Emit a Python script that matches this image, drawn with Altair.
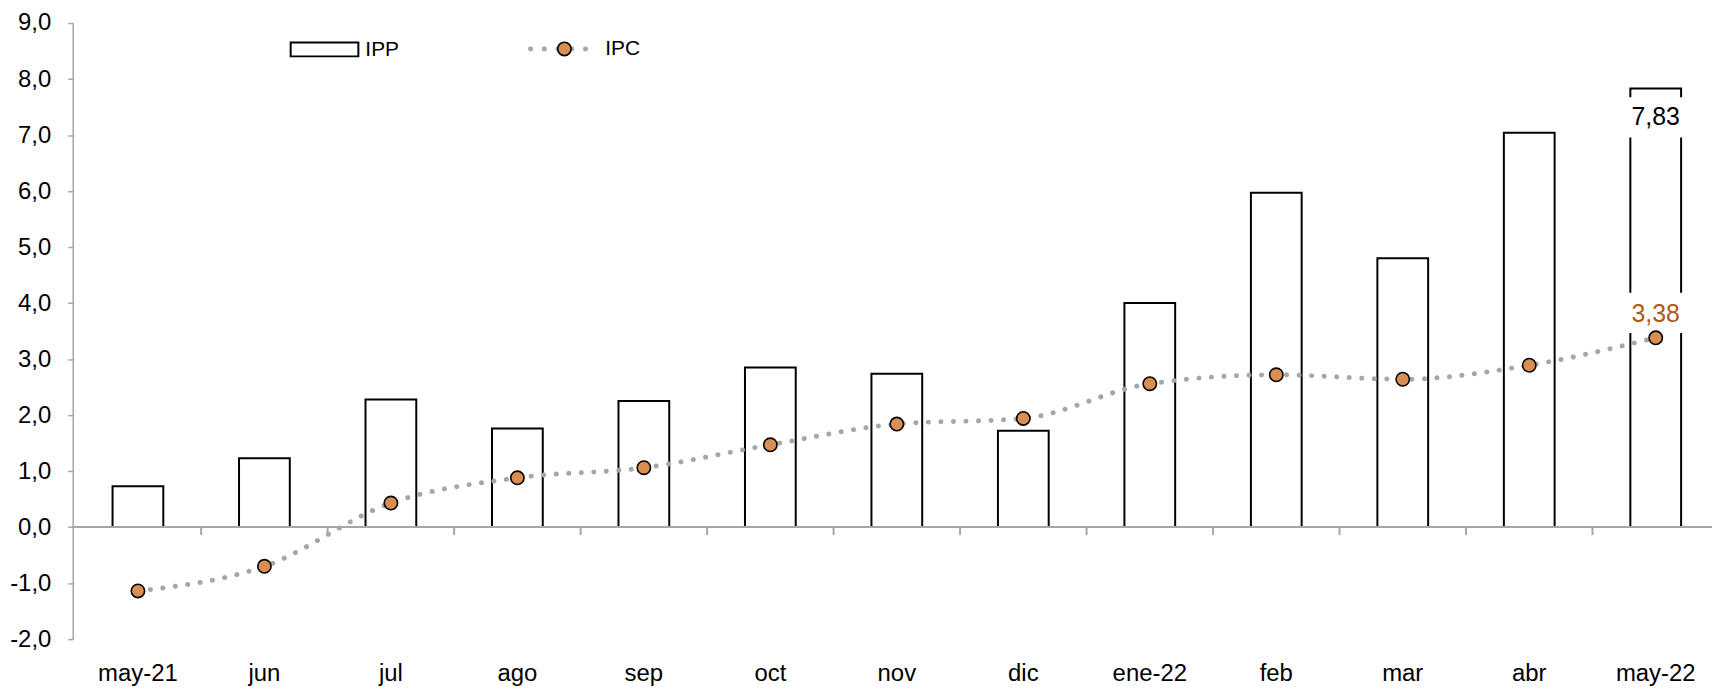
import altair as alt
import pandas as pd

meses = ['may-21', 'jun', 'jul', 'ago', 'sep', 'oct', 'nov', 'dic',
         'ene-22', 'feb', 'mar', 'abr', 'may-22']
ipp = [0.73, 1.23, 2.28, 1.76, 2.25, 2.85, 2.74, 1.72, 4.00, 5.97, 4.80, 7.04, 7.83]
ipc = [-1.14, -0.70, 0.43, 0.88, 1.06, 1.47, 1.84, 1.94, 2.56, 2.72, 2.64, 2.89, 3.38]
y_ticks = [-2, -1, 0, 1, 2, 3, 4, 5, 6, 7, 8, 9]

FONT = "Liberation Sans Narrow, Arial Narrow, Liberation Sans, Arial, sans-serif"
GRAY = "#A6A6A6"
ORANGE = "#D98E52"
BROWN = "#B05A1A"

df = pd.DataFrame({"mes": meses, "ipp": ipp, "ipc": ipc})
last = df[df["mes"] == meses[-1]].copy()
last["ipp_lbl"] = [f"{v:.2f}".replace(".", ",") for v in last["ipp"]]
last["ipc_lbl"] = [f"{v:.2f}".replace(".", ",") for v in last["ipc"]]
bounds = df.iloc[1:]

W, H = 1647, 619

xs = alt.Scale(domain=meses, range=[2, 1654], paddingInner=0, paddingOuter=0)
ys = alt.Scale(domain=[-2, 9], nice=False, zero=False)

x_axis = alt.Axis(title=None, domain=False, ticks=False, labelAngle=0,
                  labelFont=FONT, labelFontSize=24, labelColor="black",
                  labelPadding=23)
y_axis = alt.Axis(title=None, values=y_ticks, grid=False,
                  domainColor=GRAY, domainWidth=1.5, tickColor=GRAY,
                  tickWidth=1.5, tickSize=5, labelPadding=17,
                  labelFont=FONT, labelFontSize=24, labelColor="black",
                  labelExpr="replace(replace(format(datum.value, '.1f'), '.', ','), '\u2212', '-')")

base = alt.Chart(df)

bars = base.mark_bar(width=51, fill="white", stroke="black", strokeWidth=2).encode(
    x=alt.X("mes:N", sort=meses, scale=xs, axis=x_axis),
    y=alt.Y("ipp:Q", scale=ys, axis=y_axis),
)

zero = alt.Chart(pd.DataFrame({"z": [0]})).mark_rule(color=GRAY, strokeWidth=2).encode(
    y=alt.Y("z:Q", scale=ys), x=alt.value(0), x2=alt.value(W)
)

ticks = alt.Chart(bounds).mark_rule(color=GRAY, strokeWidth=2).encode(
    x=alt.X("mes:N", sort=meses, scale=xs, bandPosition=0),
    y=alt.datum(0),
    y2=alt.datum(-0.142),
)

box_shape = "M-1,-0.65H1V0.65H-1Z"
box_ipp = alt.Chart(last).mark_point(shape=box_shape, filled=True, fill="white",
                                     strokeWidth=0, opacity=1, size=3844, yOffset=29).encode(
    x=alt.X("mes:N", sort=meses, scale=xs), y=alt.Y("ipp:Q", scale=ys))
box_ipc = alt.Chart(last).mark_point(shape=box_shape, filled=True, fill="white",
                                     strokeWidth=0, opacity=1, size=3844, yOffset=-25).encode(
    x=alt.X("mes:N", sort=meses, scale=xs), y=alt.Y("ipc:Q", scale=ys))

line = base.mark_line(interpolate="monotone", color=GRAY, strokeWidth=5,
                      strokeDash=[0.1, 12.5], strokeCap="round").encode(
    x=alt.X("mes:N", sort=meses, scale=xs), y=alt.Y("ipc:Q", scale=ys))

pts = base.mark_circle(size=180, color=ORANGE, stroke="black", strokeWidth=1.6,
                       opacity=1).encode(
    x=alt.X("mes:N", sort=meses, scale=xs), y=alt.Y("ipc:Q", scale=ys))

txt_ipp = alt.Chart(last).mark_text(font=FONT, fontSize=25, color="black",
                                    baseline="middle", dy=29).encode(
    x=alt.X("mes:N", sort=meses, scale=xs), y=alt.Y("ipp:Q", scale=ys), text="ipp_lbl:N")
txt_ipc = alt.Chart(last).mark_text(font=FONT, fontSize=25, color=BROWN,
                                    baseline="middle", dy=-24).encode(
    x=alt.X("mes:N", sort=meses, scale=xs), y=alt.Y("ipc:Q", scale=ys), text="ipc_lbl:N")

# legend (drawn by hand)
one = pd.DataFrame({"k": [0]})
leg_rect = alt.Chart(one).mark_rect(fill="white", stroke="black", strokeWidth=2).encode(
    x=alt.value(219), x2=alt.value(287), y=alt.value(19.5), y2=alt.value(33.5))
leg_ipp = alt.Chart(one).mark_text(font=FONT, fontSize=21, align="left",
                                   baseline="middle", color="black", text="IPP").encode(
    x=alt.value(294), y=alt.value(27))
leg_line = alt.Chart(one).mark_rule(color=GRAY, strokeWidth=5, strokeDash=[0.1, 13.7],
                                    strokeCap="round").encode(
    x=alt.value(460), x2=alt.value(518), y=alt.value(26))
leg_pt = alt.Chart(one).mark_circle(size=180, color=ORANGE, stroke="black",
                                    strokeWidth=1.6, opacity=1).encode(
    x=alt.value(494), y=alt.value(26))
leg_ipc = alt.Chart(one).mark_text(font=FONT, fontSize=21, align="left",
                                   baseline="middle", color="black", text="IPC").encode(
    x=alt.value(535), y=alt.value(26.5))

chart = alt.layer(
    bars, zero, ticks, box_ipp, box_ipc, line, pts, txt_ipp, txt_ipc,
    leg_rect, leg_ipp, leg_line, leg_pt, leg_ipc
).properties(
    width=W, height=H,
    autosize=alt.AutoSizeParams(type="none"),
    padding={"left": 65, "top": 13.5, "right": 0, "bottom": 48},
    background="white",
).configure_view(stroke=None)

chart.save("out.html", embed_options={"renderer": "svg", "actions": False})
